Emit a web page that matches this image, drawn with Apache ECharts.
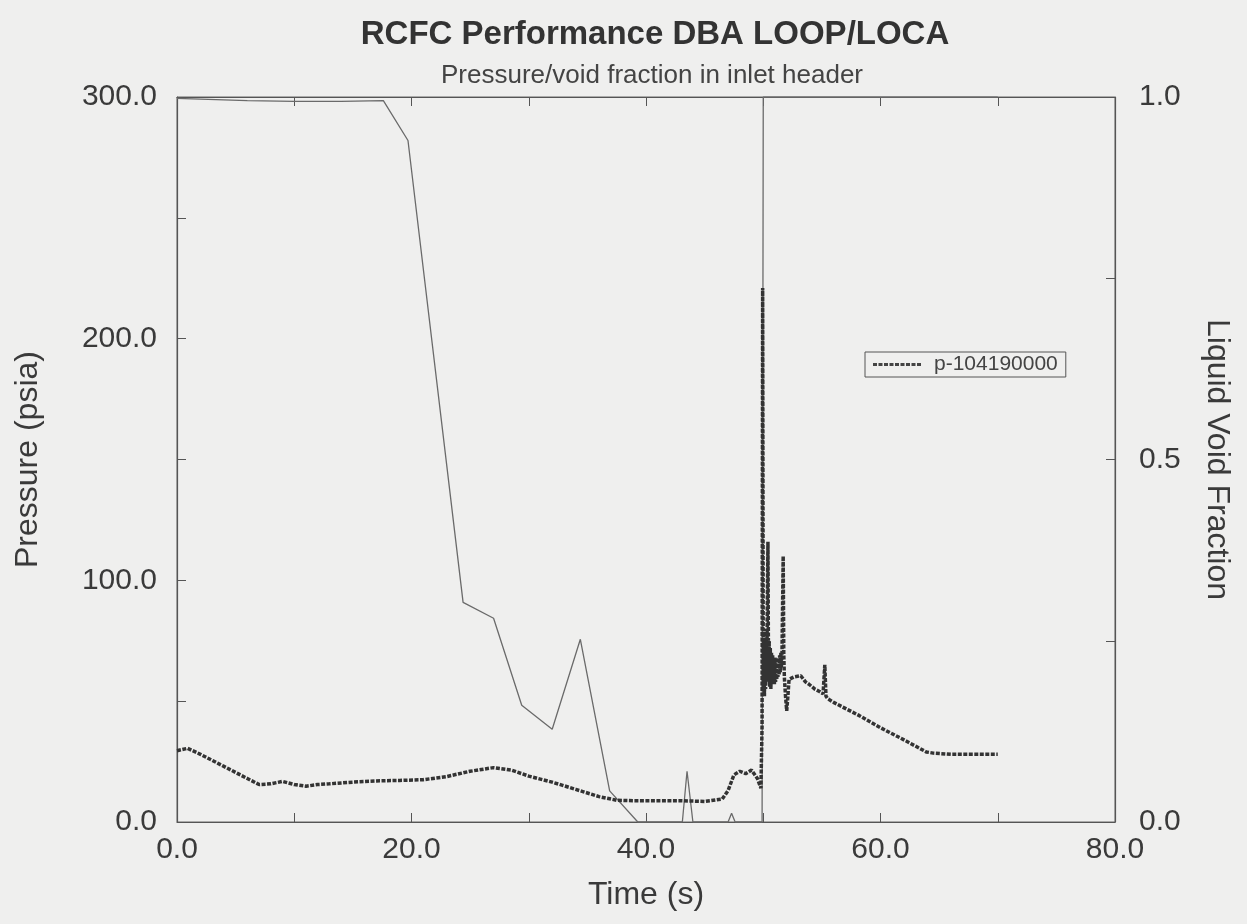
<!DOCTYPE html>
<html>
<head>
<meta charset="utf-8">
<script src="https://cdn.jsdelivr.net/npm/echarts@6/dist/echarts.min.js"></script>
<style>
html,body{margin:0;padding:0;background:#efefee;}
#c{width:1247px;height:924px;}
</style>
</head>
<body>
<div id="c"></div>
<script>
// Pressure p-104190000 (psia) vs time (s)
var pressureTime = [0,0.9,2,4,6,7,8,9,10,11,12,13,15,17,19,21,23,25,27,28.5,30,32,34,36,37.5,39,41,43,45,46.5,47,47.5,48,48.5,49,49.5,49.8,49.9,49.95,50.0,50.05,50.1,50.15,50.2,50.25,50.3,50.35,50.4,50.45,50.5,50.55,50.6,50.65,50.7,50.75,50.8,50.85,50.9,50.95,51.0,51.05,51.1,51.15,51.2,51.25,51.3,51.35,51.4,51.45,51.5,51.55,51.6,51.65,51.7,51.75,51.8,51.9,52.0,52.1,52.2,52.6,53.2,53.6,53.9,54.4,54.8,55.1,55.25,55.35,55.5,56.0,58.2,60,62,63.9,64.5,66,68,70];
var pressureValue = [29.5,30.5,28,23,18,15.5,15.8,16.8,15.5,14.8,15.5,15.8,16.5,17,17.2,17.5,18.8,21,22.5,21.5,19,16.5,13.5,10.5,9,8.8,8.8,8.8,8.5,9.5,13,19.5,21,20,21.5,18,14,40,221,55,75,52,80,55,72,58,90,116,60,75,56,72,55,70,57,69,58,68,57,68,58,67,59,68,60,68,61,69,62,70,64,70,90,110,70,60,52,46,52,59,60,60.5,58,57,55,54,53,65,52,51,49.5,44,39,34,29,28.5,28,28,28];
// Liquid void fraction vs time (s)
var voidTime = [0,2,6,10,14,17.6,19.7,24.4,27.0,29.4,32.0,34.4,36.9,39.3,43.1,43.5,44.0,47.0,47.3,47.6,49.9,50.0,70];
var voidValue = [0.998,0.997,0.995,0.994,0.994,0.995,0.94,0.303,0.281,0.161,0.128,0.252,0.043,0,0,0.07,0,0,0.012,0,0,1.0,1.0];

var titleText = 'RCFC Performance DBA LOOP/LOCA';
var subtitleText = 'Pressure/void fraction in inlet header';
var legendName = 'p-104190000';

function zip(a,b){var r=[];for(var i=0;i<a.length;i++)r.push([a[i],b[i]]);return r;}

// dotted line sample for the legend
var dashIcon = 'path://M0,0h4v3h-4z M5.5,0h4v3h-4z M11,0h4v3h-4z M16.5,0h4v3h-4z M22,0h4v3h-4z M27.5,0h4v3h-4z M33,0h4v3h-4z M38.5,0h4v3h-4z M44,0h4v3h-4z';

var ink = '#3a3a3a';
var axisColor = '#555';
var chart = echarts.init(document.getElementById('c'));
chart.setOption({
  backgroundColor:'#efefee',
  animation:false,
  textStyle:{fontFamily:'Liberation Sans, Arial, sans-serif'},
  title:[
    {text:titleText,left:650,top:13,textAlign:'center',textStyle:{fontSize:33,fontWeight:'bold',color:'#333'}},
    {text:subtitleText,left:647,top:58,textAlign:'center',textStyle:{fontSize:26,fontWeight:'normal',color:'#444'}}
  ],
  legend:{
    data:[{name:legendName,icon:dashIcon}],
    left:865, top:352,
    orient:'horizontal',
    itemWidth:48, itemHeight:4,
    itemGap:10,
    padding:[2,8,2,8],
    borderColor:'#555', borderWidth:1,
    itemStyle:{color:'#444'},
    textStyle:{fontSize:21,color:'#444',padding:[0,0,0,8]}
  },
  grid:{left:177,right:132,top:97,bottom:102,show:true,borderColor:'#666',borderWidth:1,backgroundColor:'transparent'},
  xAxis:[{
    type:'value',min:0,max:80,interval:10,position:'bottom',
    name:'Time (s)',nameLocation:'middle',nameGap:57,
    nameTextStyle:{fontSize:32,color:ink},
    axisLine:{show:true,onZero:false,lineStyle:{color:axisColor,width:1.2}},
    axisTick:{show:true,inside:true,length:9,lineStyle:{color:axisColor}},
    axisLabel:{fontSize:30,color:ink,margin:13,formatter:function(v){return v%20===0?v.toFixed(1):'';}},
    splitLine:{show:false}
  },{
    type:'value',min:0,max:80,interval:10,position:'top',
    axisLine:{show:true,onZero:false,lineStyle:{color:axisColor,width:1.2}},
    axisTick:{show:true,inside:true,length:9,lineStyle:{color:axisColor}},
    axisLabel:{show:false},splitLine:{show:false}
  }],
  yAxis:[{
    type:'value',min:0,max:300,interval:50,position:'left',
    name:'Pressure (psia)',nameLocation:'middle',nameGap:133,nameRotate:90,
    nameTextStyle:{fontSize:32,color:ink},
    axisLine:{show:true,onZero:false,lineStyle:{color:axisColor,width:1.2}},
    axisTick:{show:true,inside:true,length:9,lineStyle:{color:axisColor}},
    axisLabel:{fontSize:30,color:ink,margin:20,formatter:function(v){return v%100===0?v.toFixed(1):'';}},
    splitLine:{show:false}
  },{
    type:'value',min:0,max:1,interval:0.25,position:'right',
    name:'Liquid Void Fraction',nameLocation:'middle',nameGap:86,nameRotate:-90,
    nameTextStyle:{fontSize:32,color:ink},
    axisLine:{show:true,onZero:false,lineStyle:{color:axisColor,width:1.2}},
    axisTick:{show:true,inside:true,length:9,lineStyle:{color:axisColor}},
    axisLabel:{fontSize:30,color:ink,margin:24,formatter:function(v){return (Math.abs(v*2-Math.round(v*2))<1e-9)?v.toFixed(1):'';}},
    splitLine:{show:false}
  }],
  series:[{
    name:'void',type:'line',xAxisIndex:0,yAxisIndex:1,
    data:zip(voidTime,voidValue),symbol:'none',
    lineStyle:{color:'#6a6a6a',width:1.3},z:2
  },{
    name:legendName,type:'line',xAxisIndex:0,yAxisIndex:0,
    data:zip(pressureTime,pressureValue),symbol:'none',
    itemStyle:{color:'#333'},
    lineStyle:{color:'#333',width:3.5,type:[4,1.5]},z:3
  }]
});
</script>
</body>
</html>
